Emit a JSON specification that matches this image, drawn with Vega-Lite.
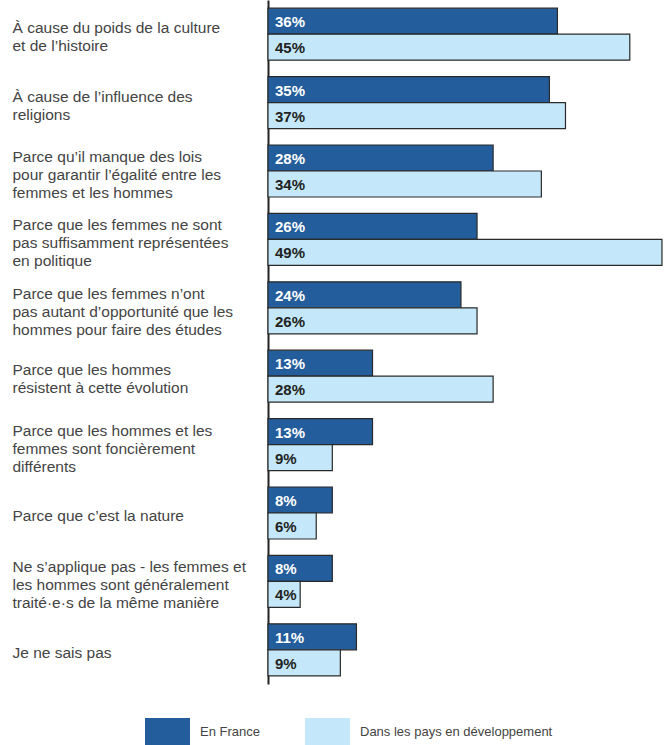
{
  "$schema": "https://vega.github.io/schema/vega-lite/v6.json",
  "autosize": {"type": "none"},
  "padding": {"left": 268, "top": 0, "right": 0, "bottom": 61},
  "width": 402,
  "height": 684,
  "background": "white",
  "config": {
    "view": {"stroke": null},
    "font": "Liberation Sans"
  },
  "data": {
    "values": [
      {"cat": "À cause du poids de la culture|et de l’histoire", "series": "En France", "value": 0.36, "label": "36%"},
      {"cat": "À cause du poids de la culture|et de l’histoire", "series": "Dans les pays en développement", "value": 0.45, "label": "45%"},
      {"cat": "À cause de l’influence des|religions", "series": "En France", "value": 0.35, "label": "35%"},
      {"cat": "À cause de l’influence des|religions", "series": "Dans les pays en développement", "value": 0.37, "label": "37%"},
      {"cat": "Parce qu’il manque des lois|pour garantir l’égalité entre les|femmes et les hommes", "series": "En France", "value": 0.28, "label": "28%"},
      {"cat": "Parce qu’il manque des lois|pour garantir l’égalité entre les|femmes et les hommes", "series": "Dans les pays en développement", "value": 0.34, "label": "34%"},
      {"cat": "Parce que les femmes ne sont|pas suffisamment représentées|en politique", "series": "En France", "value": 0.26, "label": "26%"},
      {"cat": "Parce que les femmes ne sont|pas suffisamment représentées|en politique", "series": "Dans les pays en développement", "value": 0.49, "label": "49%"},
      {"cat": "Parce que les femmes n’ont|pas autant d’opportunité que les|hommes pour faire des études", "series": "En France", "value": 0.24, "label": "24%"},
      {"cat": "Parce que les femmes n’ont|pas autant d’opportunité que les|hommes pour faire des études", "series": "Dans les pays en développement", "value": 0.26, "label": "26%"},
      {"cat": "Parce que les hommes|résistent à cette évolution", "series": "En France", "value": 0.13, "label": "13%"},
      {"cat": "Parce que les hommes|résistent à cette évolution", "series": "Dans les pays en développement", "value": 0.28, "label": "28%"},
      {"cat": "Parce que les hommes et les|femmes sont foncièrement|différents", "series": "En France", "value": 0.13, "label": "13%"},
      {"cat": "Parce que les hommes et les|femmes sont foncièrement|différents", "series": "Dans les pays en développement", "value": 0.08, "label": "9%"},
      {"cat": "Parce que c’est la nature", "series": "En France", "value": 0.08, "label": "8%"},
      {"cat": "Parce que c’est la nature", "series": "Dans les pays en développement", "value": 0.06, "label": "6%"},
      {"cat": "Ne s’applique pas - les femmes et|les hommes sont généralement|traité·e·s de la même manière", "series": "En France", "value": 0.08, "label": "8%"},
      {"cat": "Ne s’applique pas - les femmes et|les hommes sont généralement|traité·e·s de la même manière", "series": "Dans les pays en développement", "value": 0.04, "label": "4%"},
      {"cat": "Je ne sais pas", "series": "En France", "value": 0.11, "label": "11%"},
      {"cat": "Je ne sais pas", "series": "Dans les pays en développement", "value": 0.09, "label": "9%"}
    ]
  },
  "encoding": {
    "y": {
      "field": "cat",
      "type": "nominal",
      "sort": null,
      "scale": {"paddingInner": 0.24, "paddingOuter": 0.12},
      "axis": {
        "title": null,
        "domain": true,
        "domainColor": "#222222",
        "domainWidth": 2,
        "ticks": false,
        "tickSize": 0,
        "labelAlign": "left",
        "labelBaseline": "middle",
        "labelPadding": 256,
        "labelLimit": 260,
        "labelExpr": "split(datum.label, '|')",
        "labelFont": "Liberation Sans",
        "labelFontSize": 15.5,
        "labelColor": "#444444",
        "labelLineHeight": 18,
        "labelOffset": {
          "condition": [
            {"test": "length(split(datum.value, '|')) == 3", "value": -14},
            {"test": "length(split(datum.value, '|')) == 2", "value": -6}
          ],
          "value": 3
        }
      }
    },
    "yOffset": {
      "field": "series",
      "type": "nominal",
      "sort": ["En France", "Dans les pays en développement"],
      "scale": {"paddingInner": 0, "paddingOuter": 0}
    }
  },
  "layer": [
    {
      "mark": {"type": "bar", "stroke": "#2a2a2a", "strokeWidth": 1.2},
      "encoding": {
        "x": {
          "field": "value",
          "type": "quantitative",
          "scale": {"domain": [0, 0.5], "nice": false, "zero": true},
          "axis": null
        },
        "fill": {
          "field": "series",
          "type": "nominal",
          "sort": ["En France", "Dans les pays en développement"],
          "scale": {"domain": ["En France", "Dans les pays en développement"], "range": ["#245d9b", "#c4e8f9"]},
          "legend": {
            "title": null,
            "orient": "none",
            "direction": "horizontal",
            "legendX": -123,
            "legendY": 709,
            "padding": 0,
            "symbolType": "M-1,-0.6L1,-0.6L1,0.6L-1,0.6Z",
            "symbolSize": 2025,
            "symbolStrokeWidth": 0,
            "symbolOpacity": 1,
            "labelFont": "Liberation Sans",
            "labelFontSize": 13,
            "labelColor": "#444444",
            "labelOffset": 10,
            "columnPadding": 45,
            "labelLimit": 300
          }
        }
      }
    },
    {
      "mark": {"type": "text", "align": "left", "baseline": "middle", "dx": 7, "dy": 1, "fontWeight": "bold", "fontSize": 15, "font": "Liberation Sans"},
      "encoding": {
        "x": {"datum": 0, "type": "quantitative"},
        "text": {"field": "label"},
        "color": {
          "field": "series",
          "type": "nominal",
          "scale": {"domain": ["En France", "Dans les pays en développement"], "range": ["#ffffff", "#222222"]},
          "legend": null
        }
      }
    }
  ]
}
